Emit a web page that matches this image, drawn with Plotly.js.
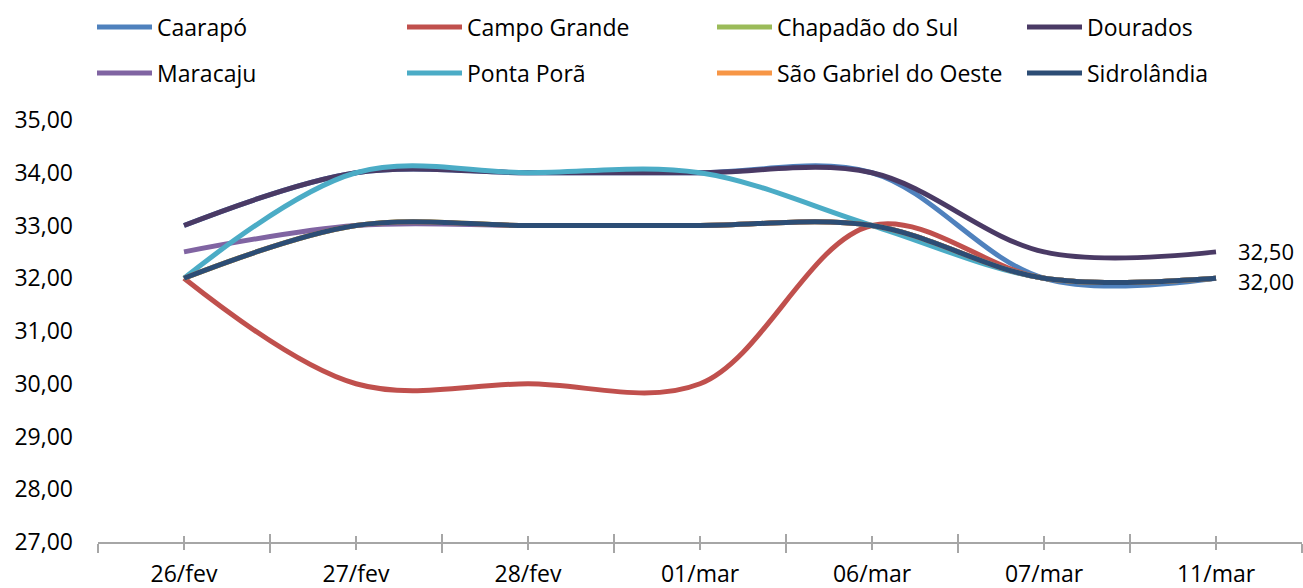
<!DOCTYPE html>
<html>
<head>
<meta charset="utf-8">
<script src="https://cdn.plot.ly/plotly-3.0.1.min.js"></script>
<style>html,body{margin:0;padding:0;background:#fff;}#chart{width:1303px;height:588px;}</style>
</head>
<body>
<div id="chart"></div>
<script>
// ---- data ----
const categories = ['26/fev', '27/fev', '28/fev', '01/mar', '06/mar', '07/mar', '11/mar'];
const caarapo      = [33.0, 34.0, 34.0, 34.0, 34.0, 32.0, 32.0];
const campoGrande  = [32.0, 30.0, 30.0, 30.0, 33.0, 32.0, 32.0];
const chapadao     = [32.0, 33.0, 33.0, 33.0, 33.0, 32.0, 32.0];
const dourados     = [33.0, 34.0, 34.0, 34.0, 34.0, 32.5, 32.5];
const maracaju     = [32.5, 33.0, 33.0, 33.0, 33.0, 32.0, 32.0];
const pontaPora    = [32.0, 34.0, 34.0, 34.0, 33.0, 32.0, 32.0];
const saoGabriel   = [32.0, 33.0, 33.0, 33.0, 33.0, 32.0, 32.0];
const sidrolandia  = [32.0, 33.0, 33.0, 33.0, 33.0, 32.0, 32.0];
const yTicks = [27, 28, 29, 30, 31, 32, 33, 34, 35];

const FONT = 'Open Sans, sans-serif';
const FS = 23;

function series(name, y, color, legend) {
  return {
    type: 'scatter', mode: 'lines', name: name, x: categories, y: y,
    line: {color: color, width: 5, shape: 'spline', smoothing: 1},
    legend: legend, hoverinfo: 'x+y+name'
  };
}

const traces = [
  series('Caarapó', caarapo, '#4F81BD', 'legend'),
  series('Campo Grande', campoGrande, '#C0504D', 'legend'),
  series('Chapadão do Sul', chapadao, '#9BBB59', 'legend'),
  series('Dourados', dourados, '#4A3A65', 'legend3'),
  series('Maracaju', maracaju, '#8064A2', 'legend2'),
  series('Ponta Porã', pontaPora, '#4BACC6', 'legend2'),
  series('São Gabriel do Oeste', saoGabriel, '#F79646', 'legend2'),
  series('Sidrolândia', sidrolandia, '#2C4D75', 'legend4')
];

// invisible carriers so that the tick-only overlay axes get drawn
['x2', 'x3', 'x4'].forEach(ax => traces.push({
  type: 'scatter', mode: 'none', x: categories, y: sidrolandia,
  xaxis: ax, yaxis: 'y', showlegend: false, hoverinfo: 'skip'
}));

const fmt = v => v.toFixed(2).replace('.', ',');
const last = categories.length - 1;

const axisGray = '#A6A6A6';
const tickAxis = (over) => Object.assign({
  type: 'category', categoryorder: 'array', categoryarray: categories,
  range: [-0.5, categories.length - 0.5], fixedrange: true,
  showgrid: false, zeroline: false, showline: false,
  showticklabels: false, tickcolor: axisGray, tickwidth: 2,
  overlaying: 'x', anchor: 'y'
}, over);

const legendBase = {
  orientation: 'h', xref: 'container', yref: 'container',
  x: 92 / 1303, xanchor: 'left', yanchor: 'middle',
  entrywidth: 240, entrywidthmode: 'pixels', itemwidth: 55,
  font: {family: FONT, size: FS, color: '#000000'}, bgcolor: 'rgba(0,0,0,0)'
};

const layout = {
  width: 1303, height: 588,
  margin: {l: 98, r: 1, t: 120, b: 46, pad: 0},
  paper_bgcolor: '#ffffff', plot_bgcolor: '#ffffff',
  separators: ',.',
  font: {family: FONT, size: FS, color: '#000000'},
  showlegend: true,
  xaxis: {
    type: 'category', categoryorder: 'array', categoryarray: categories,
    range: [-0.5, categories.length - 0.5], fixedrange: true,
    showgrid: false, zeroline: false,
    showline: true, linecolor: axisGray, linewidth: 2,
    ticks: 'outside', tickson: 'boundaries', ticklen: 9, tickwidth: 2, tickcolor: axisGray,
    ticklabelstandoff: 10,
    tickfont: {family: FONT, size: FS, color: '#000000'}
  },
  xaxis2: tickAxis({ticks: 'inside', tickson: 'boundaries', ticklen: 8}),
  xaxis3: tickAxis({ticks: 'outside', tickson: 'labels', ticklen: 7}),
  xaxis4: tickAxis({ticks: 'inside', tickson: 'labels', ticklen: 6}),
  yaxis: {
    range: [27, 35], tickmode: 'array', tickvals: yTicks, fixedrange: true,
    tickformat: '.2f', showgrid: false, zeroline: false, showline: false,
    ticks: '', ticklabelstandoff: 24,
    tickfont: {family: FONT, size: FS, color: '#000000'}
  },
  legend: Object.assign({}, legendBase, {y: 1 - 27 / 588}),
  legend2: Object.assign({}, legendBase, {y: 1 - 73 / 588}),
  legend3: Object.assign({}, legendBase, {x: 1022 / 1303, y: 1 - 27 / 588}),
  legend4: Object.assign({}, legendBase, {x: 1022 / 1303, y: 1 - 73 / 588}),
  annotations: [
    {x: categories[last], y: dourados[last], xref: 'x', yref: 'y', text: fmt(dourados[last]),
     showarrow: false, xanchor: 'left', yanchor: 'middle', xshift: 20, yshift: 1,
     font: {family: FONT, size: 22, color: '#000000'}},
    {x: categories[last], y: sidrolandia[last], xref: 'x', yref: 'y', text: fmt(sidrolandia[last]),
     showarrow: false, xanchor: 'left', yanchor: 'middle', xshift: 20, yshift: -3,
     font: {family: FONT, size: 22, color: '#000000'}}
  ]
};

Plotly.newPlot('chart', traces, layout, {displayModeBar: false, staticPlot: true});
</script>
</body>
</html>
